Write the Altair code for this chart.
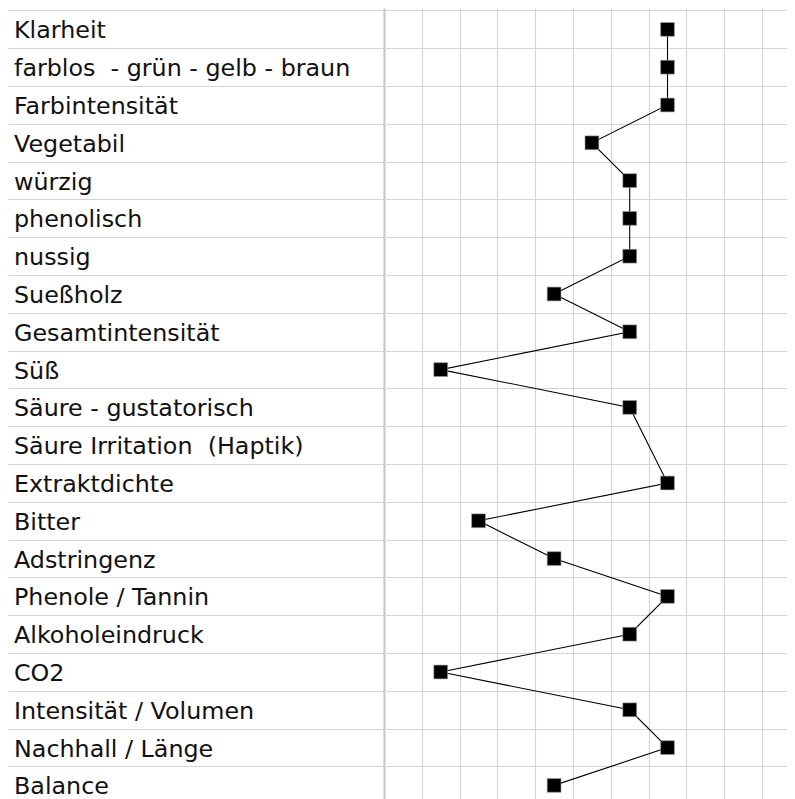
import altair as alt
import pandas as pd

labels = [
    "Klarheit",
    "farblos\u00a0 - grün - gelb - braun",
    "Farbintensität",
    "Vegetabil",
    "würzig",
    "phenolisch",
    "nussig",
    "Sueßholz",
    "Gesamtintensität",
    "Süß",
    "Säure - gustatorisch",
    "Säure Irritation\u00a0 (Haptik)",
    "Extraktdichte",
    "Bitter",
    "Adstringenz",
    "Phenole / Tannin",
    "Alkoholeindruck",
    "CO2",
    "Intensität / Volumen",
    "Nachhall / Länge",
    "Balance",
]
scores = [8, 8, 8, 6, 7, 7, 7, 5, 7, 2, 7, None, 8, 3, 5, 8, 7, 2, 7, 8, 5]

column_bounds = [k + 0.5 for k in range(11)]
row_bounds = [k - 0.5 for k in range(22)]

df = pd.DataFrame({"label": labels, "score": scores, "row": list(range(len(labels)))})

W, H = 779, 791
xscale = alt.Scale(domain=[-9.447, 11.161], nice=False, zero=False)
yscale = alt.Scale(domain=[-0.566, 20.360], nice=False, zero=False, reverse=True)

xaxis = alt.Axis(
    values=column_bounds, labels=False, ticks=False, domain=False, title=None,
    grid=True, tickCount=60,
    gridColor={"condition": {"test": "datum.value === 0.5", "value": "#c8c8c8"}, "value": "#d4d4d4"},
    gridWidth={"condition": {"test": "datum.value === 0.5", "value": 2.2}, "value": 1.2},
)
yaxis = alt.Axis(
    values=row_bounds, labels=False, ticks=False, domain=False, title=None,
    grid=True, gridColor="#d4d4d4", gridWidth=1.2, tickCount=60,
)

base = alt.Chart(df)

grid = base.mark_point(opacity=0).encode(
    x=alt.X("score:Q", scale=xscale, axis=xaxis),
    y=alt.Y("row:Q", scale=yscale, axis=yaxis),
)

line = base.transform_filter("isValid(datum.score)").mark_line(
    color="black", strokeWidth=1.1
).encode(
    x=alt.X("score:Q", scale=xscale),
    y=alt.Y("row:Q", scale=yscale),
    order=alt.Order("row:Q"),
)

pts = base.transform_filter("isValid(datum.score)").mark_square(
    color="black", opacity=1, size=190, stroke="#999999", strokeWidth=0.6
).encode(
    x=alt.X("score:Q", scale=xscale),
    y=alt.Y("row:Q", scale=yscale),
)

text = base.mark_text(
    align="left", baseline="alphabetic", dy=9, font="DejaVu Sans",
    fontSize=23.8, color="#111111",
).encode(
    x=alt.value(6),
    y=alt.Y("row:Q", scale=yscale),
    text="label:N",
)

chart = alt.layer(grid, line, pts, text).properties(
    width=W, height=H, autosize=alt.AutoSizeParams(type="none"), padding=0,
    background="white",
).configure_view(stroke=None)

chart.save("out.html", embed_options={"renderer": "svg", "actions": False})
